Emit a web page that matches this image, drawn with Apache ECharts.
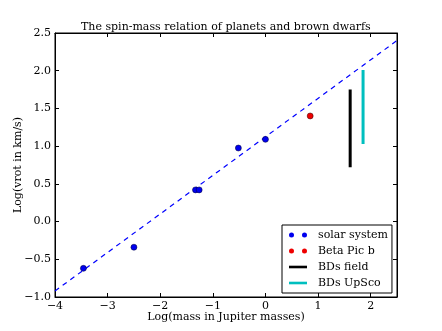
<!DOCTYPE html>
<html>
<head>
<meta charset="utf-8">
<script src="https://cdn.jsdelivr.net/npm/echarts@6/dist/echarts.min.js"></script>
<style>
  html, body { margin: 0; padding: 0; background: #fff; }
  #chart { width: 442px; height: 331px; }
</style>
</head>
<body>
<div id="chart"></div>
<script>
// values (log mass, log vrot)
const solarSystem = [
  [-3.46, -0.62],
  [-2.5, -0.34],
  [-1.33, 0.42],
  [-1.26, 0.42],
  [-0.515, 0.975],
  [0.0, 1.09]
];
const betaPicB = [[0.85, 1.40]];
const bdsField = [[1.61, 0.72], [1.61, 1.75]];
const bdsUpSco = [[1.855, 1.03], [1.855, 2.01]];
const fitLine = [[-4, -0.92], [2.5, 2.4]];

const xRange = [-4, 2.5];
const yRange = [-1, 2.5];

const font = "DejaVu Serif";
const fs = 11;
const minus = v => String(v).replace("-", "\u2212");

const chart = echarts.init(document.getElementById("chart"));

const twoDots = "path://M0,2.5a2.5,2.5 0 1,0 5,0a2.5,2.5 0 1,0 -5,0M13,2.5a2.5,2.5 0 1,0 5,0a2.5,2.5 0 1,0 -5,0";
const bar = "path://M0,0h18v2.6h-18z";

const tickStyle = { show: true, inside: true, length: 4, lineStyle: { color: "#000", width: 1 } };

const option = {
  backgroundColor: "#fff",
  animation: false,
  title: {
    text: "The spin-mass relation of planets and brown dwarfs",
    left: 76,
    top: 17,
    textStyle: { fontFamily: font, fontSize: fs, fontWeight: "normal", color: "#000" }
  },
  grid: {
    left: 55, right: 45, top: 33, bottom: 34,
    outerBoundsMode: "none",
    show: true, borderColor: "#000", borderWidth: 1, backgroundColor: "#fff"
  },
  legend: {
    orient: "vertical",
    left: 282, top: 225,
    padding: [3, 4, 3, 7],
    itemGap: 2,
    itemWidth: 18, itemHeight: 6,
    backgroundColor: "#fff",
    borderColor: "#000", borderWidth: 1, borderRadius: 0,
    textStyle: { fontFamily: font, fontSize: fs, color: "#000", lineHeight: 14, padding: [0, 0, 0, 6] },
    data: [
      { name: "solar system", icon: twoDots, itemStyle: { color: "#0000ee", borderWidth: 0 } },
      { name: "Beta Pic b", icon: twoDots, itemStyle: { color: "#ee0000", borderWidth: 0 } },
      { name: "BDs field", icon: bar },
      { name: "BDs UpSco", icon: bar }
    ]
  },
  xAxis: [
    {
      type: "value", min: xRange[0], max: xRange[1], interval: 1,
      name: "Log(mass in Jupiter masses)", nameLocation: "middle", nameGap: 15,
      nameMoveOverlap: false,
      nameTextStyle: { fontFamily: font, fontSize: fs, color: "#000" },
      axisLine: { show: true, onZero: false, lineStyle: { color: "#000" } },
      axisTick: tickStyle,
      splitLine: { show: false },
      axisLabel: {
        fontFamily: font, fontSize: fs, color: "#000", margin: 4, showMaxLabel: false,
        formatter: v => minus(v)
      }
    },
    {
      type: "value", position: "top", min: xRange[0], max: xRange[1], interval: 1,
      axisLine: { show: true, onZero: false, lineStyle: { color: "#000" } },
      axisTick: tickStyle, axisLabel: { show: false }, splitLine: { show: false }
    }
  ],
  yAxis: [
    {
      type: "value", min: yRange[0], max: yRange[1], interval: 0.5,
      name: "Log(vrot in km/s)", nameLocation: "middle", nameGap: 31,
      nameMoveOverlap: false,
      nameTextStyle: { fontFamily: font, fontSize: fs, color: "#000" },
      axisLine: { show: true, onZero: false, lineStyle: { color: "#000" } },
      axisTick: tickStyle,
      splitLine: { show: false },
      axisLabel: {
        fontFamily: font, fontSize: fs, color: "#000", margin: 4,
        formatter: v => minus(v.toFixed(1))
      }
    },
    {
      type: "value", position: "right", min: yRange[0], max: yRange[1], interval: 0.5,
      axisLine: { show: true, onZero: false, lineStyle: { color: "#000" } },
      axisTick: tickStyle, axisLabel: { show: false }, splitLine: { show: false }
    }
  ],
  series: [
    {
      name: "fit", type: "line", data: fitLine, symbol: "none",
      lineStyle: { color: "#0000ff", width: 1.2, type: [5, 4.5] }, z: 1
    },
    {
      name: "solar system", type: "scatter", data: solarSystem, symbolSize: 6,
      itemStyle: { color: "#0000ee", borderColor: "#000030", borderWidth: 0.5, opacity: 1 }
    },
    {
      name: "Beta Pic b", type: "scatter", data: betaPicB, symbolSize: 6,
      itemStyle: { color: "#ee0000", borderColor: "#300000", borderWidth: 0.5, opacity: 1 }
    },
    {
      name: "BDs field", type: "line", data: bdsField, symbol: "none",
      itemStyle: { color: "#000" },
      lineStyle: { color: "#000", width: 3, cap: "butt" }
    },
    {
      name: "BDs UpSco", type: "line", data: bdsUpSco, symbol: "none",
      itemStyle: { color: "#00bfbf" },
      lineStyle: { color: "#00bfbf", width: 3, cap: "butt" }
    }
  ]
};

chart.setOption(option);
</script>
</body>
</html>
